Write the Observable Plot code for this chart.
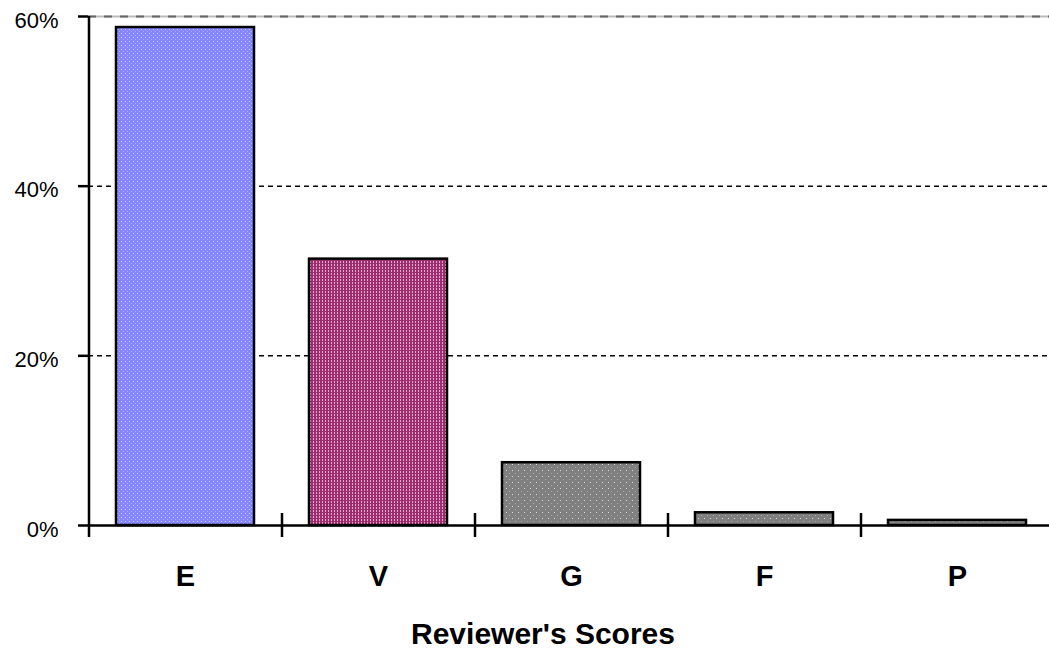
<!DOCTYPE html>
<html><head><meta charset="utf-8">
<script src="https://cdn.jsdelivr.net/npm/d3@7"></script>
<script src="https://cdn.jsdelivr.net/npm/@observablehq/plot@0.6"></script>
<style>body{margin:0;background:#fff;font-family:"Liberation Sans",Arial,sans-serif;overflow:hidden}</style>
</head><body><div id="chart"></div>
<script>
const categories = ["E", "V", "G", "F", "P"];
const values = [58.7, 31.4, 7.4, 1.5, 0.6];
const patterns = ["url(#pE)", "url(#pV)", "url(#pG)", "url(#pG)", "url(#pG)"];
const yTicks = [0, 20, 40, 60];
const axisTitle = "Reviewer's Scores";

const data = categories.map((c, i) => ({cat: c, value: values[i], fill: patterns[i]}));

const W = 1049, H = 649, mL = 88, mR = -4, mT = 16, mB = 124;
const step = (W - mL - mR) / categories.length;

const plot = Plot.plot({
  width: W, height: H,
  marginLeft: mL, marginRight: mR, marginTop: mT, marginBottom: mB,
  style: {fontFamily: "'Liberation Sans', Arial, sans-serif", background: "#fff", overflow: "hidden"},
  x: {domain: categories, paddingInner: 0.286, paddingOuter: 0.143, axis: null},
  y: {domain: [0, 60], axis: null},
  color: {type: "identity"},
  marks: [
    Plot.ruleY([60], {stroke: "#bbb", strokeWidth: 2}),
    Plot.ruleY([60], {stroke: "#666", strokeWidth: 2, strokeDasharray: "8,8"}),
    Plot.ruleY([20, 40], {stroke: "#000", strokeWidth: 1.5, strokeDasharray: "5,4"}),
    Plot.barY(data, {x: "cat", y: "value", fill: "fill", stroke: "#000", strokeWidth: 2.5}),
    Plot.ruleY([0], {stroke: "#000", strokeWidth: 2.5, insetLeft: -10}),
    // left axis line
    Plot.ruleX([categories[0]], {x: d => d, dx: -step / 2, y1: 60, y2: 0, stroke: "#000", strokeWidth: 2.5, insetBottom: -12}),
    // y ticks
    Plot.ruleY(yTicks.slice(1), {y: d => d, stroke: "#000", strokeWidth: 2.5, insetLeft: -10, insetRight: W - mL - mR}),
    // y tick labels
    Plot.text(yTicks, {y: d => d, text: d => d + "%", frameAnchor: "left", textAnchor: "end", lineAnchor: "middle", dx: -30, dy: 4, fontSize: 22, fill: "#000"}),
    // category separator ticks
    Plot.ruleX(categories.slice(1), {x: d => d, dx: -step / 2, y1: 0, y2: 0, stroke: "#000", strokeWidth: 2.5, insetTop: -12, insetBottom: -12}),
    // category labels
    Plot.text(categories, {x: d => d, frameAnchor: "bottom", lineAnchor: "middle", dy: 51, fontSize: 29, fontWeight: "bold", fill: "#000"}),
    Plot.text([axisTitle], {frameAnchor: "bottom", lineAnchor: "middle", dy: 109, dx: -28, fontSize: 30, fontWeight: "bold", fill: "#000"})
  ]
});

const defs = `
<defs>
<pattern id="pE" width="4" height="4" patternUnits="userSpaceOnUse">
 <rect width="4" height="4" fill="#8585ff"/>
 <rect x="1" y="1" width="1" height="1" fill="#d6d6ff"/>
 <rect x="3" y="3" width="1" height="1" fill="#b0b0ff"/>
</pattern>
<pattern id="pV" width="3" height="3" patternUnits="userSpaceOnUse">
 <rect width="3" height="3" fill="#9a2e6e"/>
 <rect x="1" y="0" width="1" height="2" fill="#e6a6cc"/>
</pattern>
<pattern id="pG" width="6" height="6" patternUnits="userSpaceOnUse">
 <rect width="6" height="6" fill="#808080"/>
 <rect x="2" y="2" width="1" height="1" fill="#d8d8d8"/>
 <rect x="5" y="5" width="1" height="1" fill="#a8a8a8"/>
</pattern>
</defs>`;
plot.insertAdjacentHTML("afterbegin", defs);
document.getElementById("chart").appendChild(plot);
</script>
</body></html>
